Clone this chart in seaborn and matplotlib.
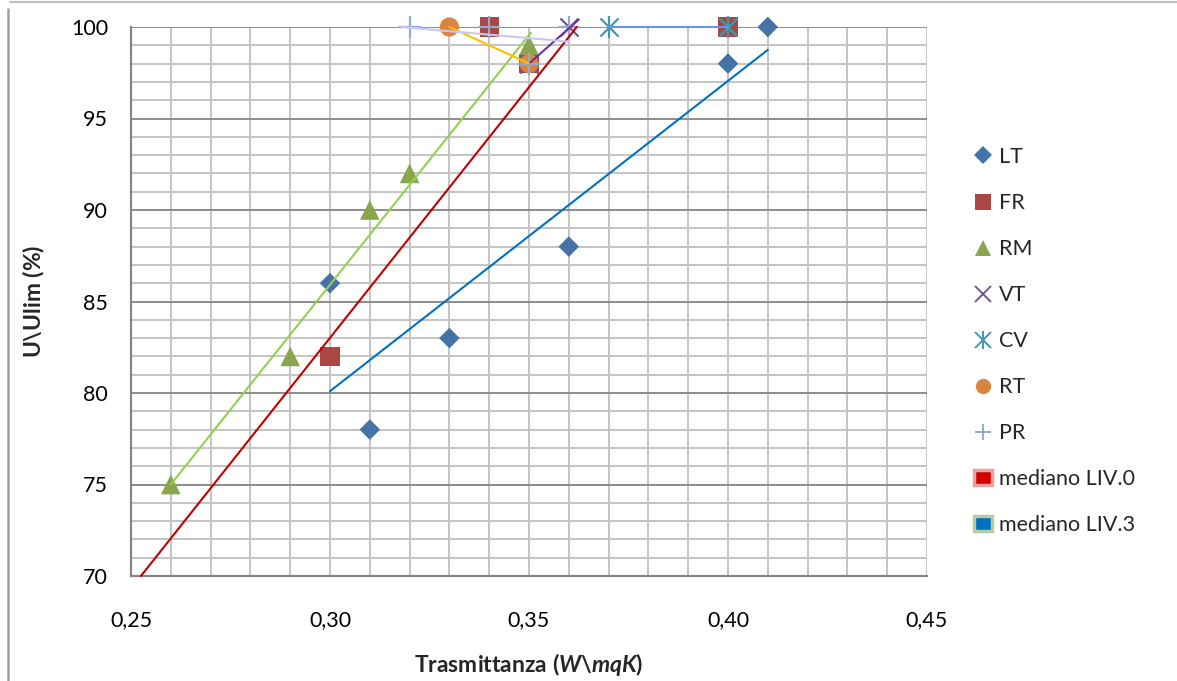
import matplotlib
matplotlib.use("Agg")
import matplotlib.pyplot as plt
from matplotlib.lines import Line2D
from matplotlib.patches import Rectangle
from matplotlib.ticker import MultipleLocator, FuncFormatter
import seaborn as sns
import pandas as pd

# ---- data -------------------------------------------------------------
lt_x = [0.41, 0.40, 0.36, 0.33, 0.31, 0.30]
lt_y = [100, 98, 88, 83, 78, 86]

fr_x = [0.34, 0.30, 0.35, 0.40]
fr_y = [100, 82, 98, 100]

rm_x = [0.26, 0.29, 0.31, 0.32, 0.35]
rm_y = [75, 82, 90, 92, 99]

vt_x = [0.36, 0.35]
vt_y = [100, 98]

cv_x = [0.37, 0.40]
cv_y = [100, 100]

rt_x = [0.33, 0.35]
rt_y = [100, 98]

pr_x = [0.32, 0.34, 0.35, 0.36]
pr_y = [100, 100, 98, 100]

# median reference lines
liv0_x = [0.2525, 0.362]
liv0_y = [70, 100]
liv3_x = [0.300, 0.410]
liv3_y = [80.1, 98.75]

# trend lines of the single series
trend_rm_x = [0.26, 0.3505]
trend_rm_y = [75.0, 99.7]
trend_vt_x = [0.35, 0.3625]
trend_vt_y = [98.0, 100.4]
trend_rt_x = [0.33, 0.35]
trend_rt_y = [100.0, 98.0]
trend_pr_x = [0.318, 0.360]
trend_pr_y = [100.0, 99.2]
trend_cv_x = [0.37, 0.40]
trend_cv_y = [100.0, 100.0]

x_ticks = [0.25, 0.30, 0.35, 0.40, 0.45]
y_ticks = [70, 75, 80, 85, 90, 95, 100]

# ---- style ------------------------------------------------------------
sns.set_theme(style="white")
plt.rcParams["font.family"] = ["Lato", "DejaVu Sans"]
plt.rcParams["mathtext.fontset"] = "custom"
plt.rcParams["mathtext.rm"] = "Lato:bold"
plt.rcParams["mathtext.it"] = "Lato:bold:italic"
plt.rcParams["mathtext.bf"] = "Lato:bold"

FS = 15.5
FS_LABEL = 16.5
W, H = 1177, 681
fig = plt.figure(figsize=(W / 100, H / 100), dpi=100)
ax = fig.add_axes([131 / W, 1 - 576 / H, (927 - 131) / W, (576 - 27) / H])

# name, x, y, marker(s), colour, size
series = [
    ("LT", lt_x, lt_y, ["D"], "#4572A7", 110),
    ("FR", fr_x, fr_y, ["s"], "#AA4643", 190),
    ("RM", rm_x, rm_y, ["^"], "#89A54E", 200),
    ("VT", vt_x, vt_y, ["x"], "#71588F", 170),
    ("CV", cv_x, cv_y, ["x", "|"], "#4198AF", 170),
    ("RT", rt_x, rt_y, ["o"], "#DB843D", 190),
    ("PR", pr_x, pr_y, ["+"], "#93A9CF", 230),
]
FILLED = ("D", "s", "^", "o")

for name, xs, ys, mks, col, size in series:
    df = pd.DataFrame({"x": xs, "y": ys})
    for mk in mks:
        filled = mk in FILLED
        kw = dict(edgecolor="none") if filled else dict(linewidths=1.6)
        s = size if mk != "|" else size * 1.4
        sns.scatterplot(data=df, x="x", y="y", marker=mk, color=col, s=s,
                        ax=ax, clip_on=False, zorder=3, legend=False, **kw)

lines = [
    (liv0_x, liv0_y, "#C00000"),
    (liv3_x, liv3_y, "#0070C0"),
    (trend_rm_x, trend_rm_y, "#92D050"),
    (trend_vt_x, trend_vt_y, "#7030A0"),
    (trend_rt_x, trend_rt_y, "#FFC000"),
    (trend_pr_x, trend_pr_y, "#C8C8F4"),
    (trend_cv_x, trend_cv_y, "#6495ED"),
]
for xs, ys, col in lines:
    sns.lineplot(x=xs, y=ys, color=col, linewidth=1.5, ax=ax,
                 estimator=None, sort=False, zorder=4)
    ax.lines[-1].set_clip_on(False)

# ---- axes -------------------------------------------------------------
ax.set_xlim(0.25, 0.45)
ax.set_ylim(70, 100)
ax.set_xticks(x_ticks)
ax.set_yticks(y_ticks)
ax.xaxis.set_minor_locator(MultipleLocator(0.01))
ax.yaxis.set_minor_locator(MultipleLocator(1))
ax.xaxis.set_major_formatter(FuncFormatter(lambda v, p: f"{v:.2f}".replace(".", ",")))
ax.yaxis.set_major_formatter(FuncFormatter(lambda v, p: f"{v:.0f}"))

ax.grid(which="minor", axis="both", color="#C4C4C4", linewidth=1.4)
ax.grid(which="major", axis="x", color="#C4C4C4", linewidth=1.4)
ax.grid(which="major", axis="y", color="#8C8C8C", linewidth=1.4)
ax.set_axisbelow(True)

for side in ("top", "right"):
    ax.spines[side].set_visible(False)
for side in ("left", "bottom"):
    ax.spines[side].set_color("#868686")
    ax.spines[side].set_linewidth(1.6)

ax.tick_params(which="major", direction="out", length=4.5, width=1.4,
               color="#868686", labelsize=FS, labelcolor="black")
ax.tick_params(which="minor", length=0)
ax.tick_params(axis="x", pad=20)
ax.tick_params(axis="y", pad=12)

ax.set_xlabel(r"Trasmittanza $\mathit{(W\backslash mqK)}$", fontsize=FS_LABEL,
              fontweight="bold")
ax.set_ylabel(r"U\Ulim $\mathit{(\%)}$", fontsize=FS_LABEL, fontweight="bold")
ax.xaxis.set_label_coords(0.5, -0.137)
ax.yaxis.set_label_coords(-0.105, 0.5)

# ---- legend -----------------------------------------------------------
handles = []
for name, xs, ys, mks, col, size in series:
    parts = []
    for mk in mks:
        filled = mk in FILLED
        parts.append(Line2D([], [], linestyle="none", marker=mk,
                            markersize=(9 if mk == "D" else 13 if mk == "|" else 11),
                            markerfacecolor=col if filled else "none",
                            markeredgecolor=col,
                            markeredgewidth=0 if filled else 1.4))
    handles.append(tuple(parts) if len(parts) > 1 else parts[0])
handles.append(Rectangle((0, 0), 1, 1, facecolor="#D00000",
                         edgecolor="#E8A0A0", linewidth=2.5))
handles.append(Rectangle((0, 0), 1, 1, facecolor="#0070C0",
                         edgecolor="#B8CCA0", linewidth=2.5))
labels = [s[0] for s in series] + ["mediano LIV.0", "mediano LIV.3"]
fig.legend(handles, labels, loc="upper left",
           bbox_to_anchor=(974 / W, 1 - 147 / H), frameon=False,
           fontsize=FS, labelspacing=1.21, handlelength=0.85,
           handleheight=0.7, handletextpad=0.3, borderpad=0,
           borderaxespad=0)

# ---- outer frame ------------------------------------------------------
fig.add_artist(Line2D([10 / W, 1], [1 - 2 / H, 1 - 2 / H],
                      transform=fig.transFigure, color="#C0C0C0", linewidth=1.6))
fig.add_artist(Line2D([8 / W, 8 / W], [1 - 9 / H, 0],
                      transform=fig.transFigure, color="#A0A0A0", linewidth=1.8))

fig.savefig("out.png", dpi=100)
